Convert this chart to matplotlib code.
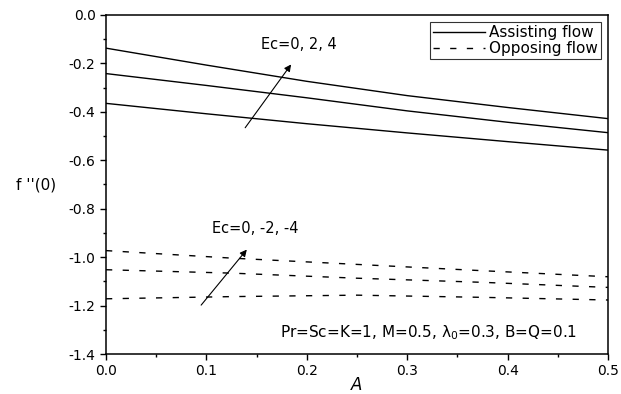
import matplotlib.pyplot as plt
from matplotlib.ticker import MultipleLocator

plt.rcParams['font.family'] = ['DejaVu Sans']

# skin friction f''(0) against A
A_assist = [0.0, 0.1, 0.2, 0.3, 0.4, 0.5]
ec0_assist = [-0.137, -0.207, -0.274, -0.333, -0.382, -0.428]
ec2_assist = [-0.242, -0.291, -0.342, -0.396, -0.443, -0.486]
ec4_assist = [-0.365, -0.408, -0.449, -0.487, -0.523, -0.558]

A_oppose = [0.0, 0.125, 0.25, 0.375, 0.5]
ec0_oppose = [-0.973, -1.004, -1.030, -1.056, -1.081]
ec2_oppose = [-1.052, -1.066, -1.087, -1.104, -1.125]
ec4_oppose = [-1.172, -1.163, -1.157, -1.166, -1.177]

fig = plt.figure(figsize=(6.21, 3.94), dpi=100)
ax = fig.add_axes([0.1707, 0.1015, 0.8083, 0.8605])

lw = 1.0
dash = (4.5, 7.5)
ax.plot(A_assist, ec0_assist, 'k-', lw=lw, label='Assisting flow')
ax.plot(A_assist, ec2_assist, 'k-', lw=lw)
ax.plot(A_assist, ec4_assist, 'k-', lw=lw)
ax.plot(A_oppose, ec0_oppose, 'k', lw=lw, dashes=dash, label='Opposing flow')
ax.plot(A_oppose, ec2_oppose, 'k', lw=lw, dashes=dash)
ax.plot(A_oppose, ec4_oppose, 'k', lw=lw, dashes=dash)

ax.set_xlim(0, 0.5)
ax.set_ylim(-1.4, 0.0)
ax.xaxis.set_major_locator(MultipleLocator(0.1))
ax.xaxis.set_minor_locator(MultipleLocator(0.05))
ax.yaxis.set_major_locator(MultipleLocator(0.2))
ax.yaxis.set_minor_locator(MultipleLocator(0.1))
ax.xaxis.set_major_formatter(plt.FormatStrFormatter('%.1f'))
ax.yaxis.set_major_formatter(plt.FormatStrFormatter('%.1f'))
ax.tick_params(which='major', direction='out', length=4, width=1, labelsize=10)
ax.tick_params(which='minor', direction='out', length=2.5, width=1)
for s in ax.spines.values():
    s.set_linewidth(1.1)

ax.set_xlabel('A', fontsize=12, style='italic', labelpad=-2)
ax.set_ylabel("f ''(0)", fontsize=11, rotation=0, labelpad=0)
ax.yaxis.set_label_coords(-0.14, 0.475)

# Ec arrows and labels
ax.annotate('', xy=(0.186, -0.195), xytext=(0.137, -0.475),
            arrowprops=dict(arrowstyle='-|>', color='k', lw=0.8, mutation_scale=10))
ax.text(0.154, -0.12, 'Ec=0, 2, 4', fontsize=10.5, va='center')
ax.annotate('', xy=(0.142, -0.960), xytext=(0.093, -1.207),
            arrowprops=dict(arrowstyle='-|>', color='k', lw=0.8, mutation_scale=10))
ax.text(0.106, -0.88, 'Ec=0, -2, -4', fontsize=10.5, va='center')
ax.text(0.173, -1.31, 'Pr=Sc=K=1, M=0.5, λ$_0$=0.3, B=Q=0.1',
        fontsize=11, va='center')

leg = ax.legend(loc='upper right', fontsize=11, frameon=True, fancybox=False,
                edgecolor='k', borderpad=0.2, handlelength=3.4, handletextpad=0.3,
                labelspacing=0.08, borderaxespad=0.45)
leg.get_frame().set_linewidth(0.8)

fig.savefig('out.png', dpi=100)
